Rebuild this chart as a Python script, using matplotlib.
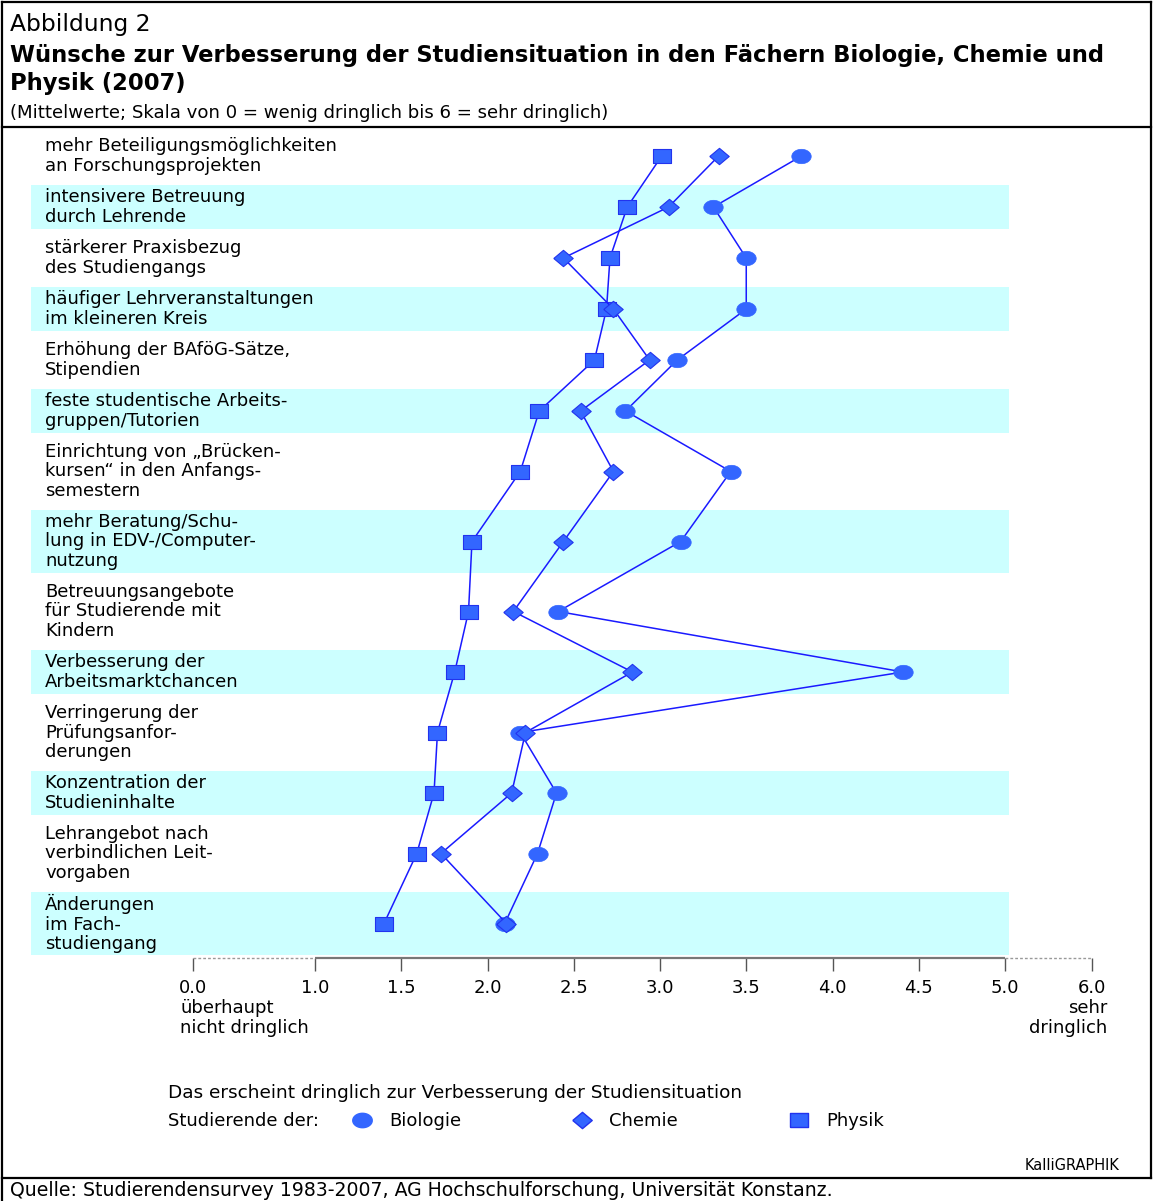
import numpy as np
import matplotlib
matplotlib.use("Agg")
import matplotlib.pyplot as plt
from matplotlib.lines import Line2D
from matplotlib.transforms import blended_transform_factory

# data (Mittelwerte, Skala 0-6)
labels = [
    "mehr Beteiligungsmöglichkeiten\nan Forschungsprojekten",
    "intensivere Betreuung\ndurch Lehrende",
    "stärkerer Praxisbezug\ndes Studiengangs",
    "häufiger Lehrveranstaltungen\nim kleineren Kreis",
    "Erhöhung der BAföG-Sätze,\nStipendien",
    "feste studentische Arbeits-\ngruppen/Tutorien",
    "Einrichtung von „Brücken-\nkursen“ in den Anfangs-\nsemestern",
    "mehr Beratung/Schu-\nlung in EDV-/Computer-\nnutzung",
    "Betreuungsangebote\nfür Studierende mit\nKindern",
    "Verbesserung der\nArbeitsmarktchancen",
    "Verringerung der\nPrüfungsanfor-\nderungen",
    "Konzentration der\nStudieninhalte",
    "Lehrangebot nach\nverbindlichen Leit-\nvorgaben",
    "Änderungen\nim Fach-\nstudiengang",
]
biologie = [3.82, 3.31, 3.50, 3.50, 3.10, 2.80, 3.41, 3.12, 2.41, 4.41, 2.19, 2.40, 2.29, 2.10]
chemie = [3.34, 3.05, 2.44, 2.73, 2.94, 2.54, 2.73, 2.44, 2.15, 2.84, 2.22, 2.14, 1.73, 2.11]
physik = [3.01, 2.81, 2.71, 2.69, 2.62, 2.30, 2.19, 1.91, 1.89, 1.81, 1.71, 1.69, 1.59, 1.40]
ticks = [0, 1, 1.5, 2, 2.5, 3, 3.5, 4, 4.5, 5, 6]

W, H = 1153, 1201
def fx(px):
    return px / W
def fy(py):
    return 1 - py / H

# broken axis: 0-1 and 5-6 compressed
def fwd(v):
    v = np.asarray(v, dtype=float)
    return np.where(v < 1, 122 * v, np.where(v <= 5, 122 + 172.5 * (v - 1), 812 + 87 * (v - 5)))

def inv(u):
    u = np.asarray(u, dtype=float)
    return np.where(u < 122, u / 122, np.where(u <= 812, 1 + (u - 122) / 172.5, 5 + (u - 812) / 87))

plt.rcParams['font.family'] = ['DejaVu Sans']
fs = 13

fig = plt.figure(figsize=(W / 100, H / 100), dpi=100)
ax = fig.add_axes([fx(31), fy(958), fx(1092) - fx(31), fy(127) - fy(958)])
ax.set_xscale('function', functions=(fwd, inv))
ax.set_xlim((31 - 193) / 122, 6)

# row layout: height depends on number of text lines
nlines = [lab.count("\n") + 1 for lab in labels]
heights = [(6 if i % 2 else 20) + 19 * n for i, n in enumerate(nlines)]
tops = np.concatenate([[0], np.cumsum(heights)[:-1]])
ycent = tops + np.array(heights) / 2
ax.set_ylim(831, 0)

band_right = (1009 - 31) / (1092 - 31)
trans = blended_transform_factory(ax.transAxes, ax.transData)
for i, lab in enumerate(labels):
    if i % 2:
        ax.axhspan(tops[i], tops[i] + heights[i], xmin=0, xmax=band_right,
                   color='#ccffff', lw=0, zorder=0)
    ax.text((45 - 31) / (1092 - 31), ycent[i], lab, transform=trans, va='center',
            ha='left', fontsize=fs, linespacing=1.1)

theta = np.linspace(0, 2 * np.pi, 60)
m_circle = np.column_stack([np.cos(theta), 0.74 * np.sin(theta)])
m_square = [(-1, -0.82), (1, -0.82), (1, 0.82), (-1, 0.82), (-1, -0.82)]
m_diamond = [(-1, 0), (0, 0.84), (1, 0), (0, -0.84), (-1, 0)]

fill = '#3366ff'
edge = '#2233ee'
linec = '#1a1aff'
ax.plot(physik, ycent, color=linec, lw=1.1, marker=m_square, ms=12.5,
        mfc=fill, mec=edge, mew=0.8, zorder=3)
ax.plot(biologie, ycent, color=linec, lw=1.1, marker=m_circle, ms=14,
        mfc=fill, mec=fill, mew=0.5, zorder=4)
ax.plot(chemie, ycent, color=linec, lw=1.1, marker=m_diamond, ms=14,
        mfc=fill, mec=edge, mew=0.8, zorder=5)

# x axis
for s in ax.spines.values():
    s.set_visible(False)
ybot = 831
ax.plot([0, 1], [ybot, ybot], color='#999999', lw=1, ls=(0, (2, 1.5)), clip_on=False)
ax.plot([1, 5], [ybot, ybot], color='#777777', lw=1.6, clip_on=False, solid_capstyle='butt')
ax.plot([5, 6], [ybot, ybot], color='#999999', lw=1, ls=(0, (2, 1.5)), clip_on=False)
ax.set_xticks(ticks, [f"{t:.1f}" for t in ticks])
ax.tick_params(axis='x', direction='out', length=9, width=1, color='#555555',
               pad=6, labelsize=fs)
ax.set_yticks([])
ax.minorticks_off()

fig.text(fx(180), fy(1018), "überhaupt\nnicht dringlich", fontsize=fs,
         ha='left', va='center', linespacing=1.1)
fig.text(fx(1107), fy(1018), "sehr\ndringlich", fontsize=fs,
         ha='right', va='center', linespacing=1.1)

# header
fig.text(fx(10), fy(24), "Abbildung 2", fontsize=16.8, va='center')
fig.text(fx(10), fy(69.5), "Wünsche zur Verbesserung der Studiensituation in den Fächern Biologie, Chemie und\nPhysik (2007)",
         fontsize=16.3, fontweight='bold', va='center', linespacing=1.3)
fig.text(fx(10), fy(113), "(Mittelwerte; Skala von 0 = wenig dringlich bis 6 = sehr dringlich)",
         fontsize=13.1, va='center')

# legend
fig.text(fx(168), fy(1093), "Das erscheint dringlich zur Verbesserung der Studiensituation",
         fontsize=13.3, va='center')
fig.text(fx(168), fy(1121), "Studierende der:", fontsize=fs, va='center')
handles = [
    Line2D([], [], ls='none', marker=m_circle, ms=14, mfc=fill, mec=fill),
    Line2D([], [], ls='none', marker=m_diamond, ms=14, mfc=fill, mec=edge),
    Line2D([], [], ls='none', marker=m_square, ms=12.5, mfc=fill, mec=edge),
]
fig.legend(handles, ["Biologie", "Chemie", "Physik"], loc='center left',
           bbox_to_anchor=(fx(353), fy(1121)), ncol=3, frameon=False,
           fontsize=fs, handlelength=1.0, handletextpad=1.0, columnspacing=6.2,
           borderpad=0, borderaxespad=0)

fig.text(fx(1120), fy(1166), "KalliGRAPHIK", fontsize=10.5, ha='right', va='center')
fig.text(fx(10), fy(1191), "Quelle: Studierendensurvey 1983-2007, AG Hochschulforschung, Universität Konstanz.",
         fontsize=13.6, va='center')

# frame lines
def hline(y, x0=2, x1=1151):
    fig.add_artist(Line2D([fx(x0), fx(x1)], [fy(y), fy(y)], color='black', lw=1.6))
def vline(x, y0=2, y1=1201):
    fig.add_artist(Line2D([fx(x), fx(x)], [fy(y0), fy(y1)], color='black', lw=1.6))
hline(2)
hline(127)
hline(1178)
vline(2)
vline(1151, 2, 1178)

fig.savefig("out.png", dpi=100)
